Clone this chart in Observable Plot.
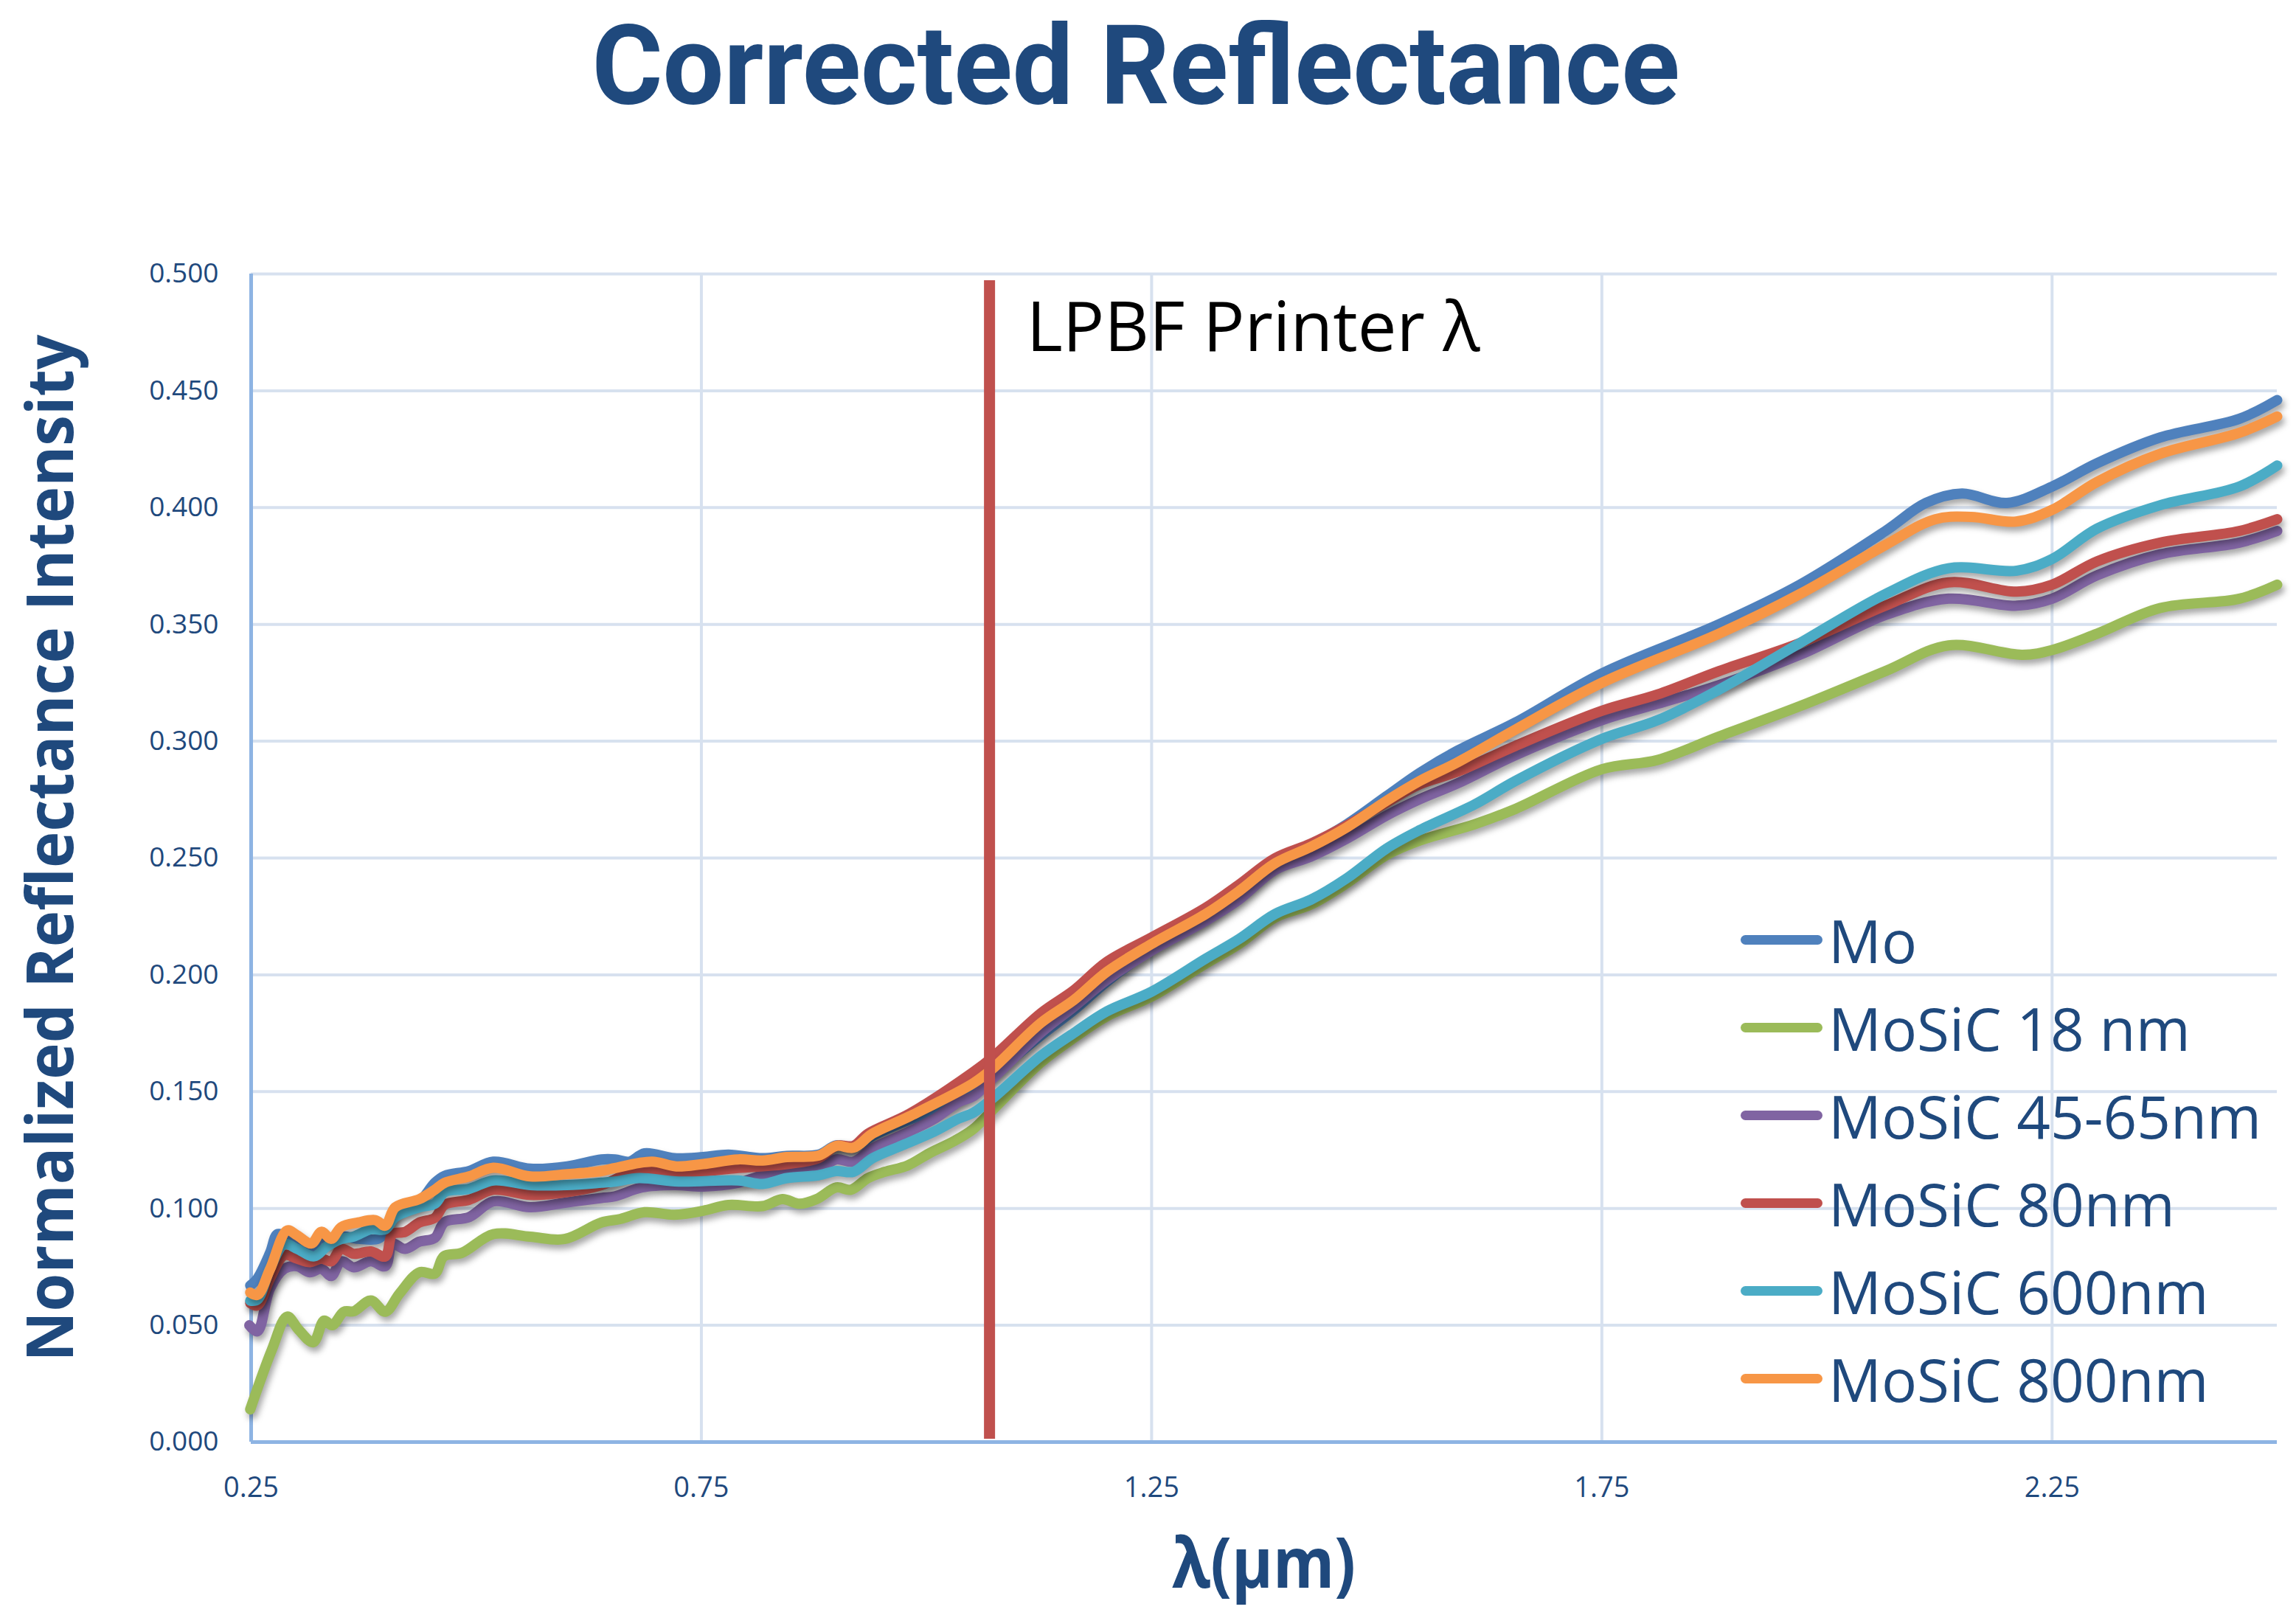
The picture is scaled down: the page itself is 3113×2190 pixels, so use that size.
<!DOCTYPE html>
<html>
<head>
<meta charset="utf-8">
<script src="https://cdn.jsdelivr.net/npm/d3@7"></script>
<script src="https://cdn.jsdelivr.net/npm/@observablehq/plot@0.6"></script>
<style>
  html, body { margin: 0; padding: 0; background: #fff; }
  #wrap { position: relative; width: 3113px; height: 2190px; overflow: hidden; background: #fff; font-family: 'Open Sans', sans-serif; }
  #title { position: absolute; left: 0; top: 0; width: 3113px; height: 190px; }
  #chart { position: absolute; left: 0; top: 190px; }
  #legend { position: absolute; left: 2360px; top: 1215px; }
  .row { display: flex; align-items: center; height: 119px; }
  .sw { width: 111px; height: 13px; border-radius: 7px; margin-right: 8px; }
  .lab { font-size: 80px; color: #1F497D; white-space: nowrap; }
</style>
</head>
<body>
<div id="wrap">
  <div id="title">
    <svg width="3113" height="190" xmlns="http://www.w3.org/2000/svg">
      <text x="1540" y="141" text-anchor="middle" font-family="Roboto, sans-serif" font-weight="700" font-size="150" fill="#1F497D" textLength="1475" lengthAdjust="spacingAndGlyphs">Corrected Reflectance</text>
    </svg>
  </div>
  <div id="chart"></div>
  <div id="legend"></div>
</div>
<script>
// ---- data (wavelength µm, normalized reflectance) ----
const seriesNames = ["Mo", "MoSiC 18 nm", "MoSiC 45-65nm", "MoSiC 80nm", "MoSiC 600nm", "MoSiC 800nm"];
const seriesColors = ["#4F81BD", "#9BBB59", "#8064A2", "#C0504D", "#4BACC6", "#F79646"];

const mo = [[0.249,0.067],[0.257,0.070],[0.271,0.081],[0.279,0.089],[0.287,0.0885],[0.301,0.087],[0.317,0.083],[0.328,0.088],[0.339,0.085],[0.350,0.088],[0.369,0.087],[0.391,0.087],[0.399,0.090],[0.410,0.098],[0.437,0.103],[0.454,0.111],[0.465,0.114],[0.492,0.116],[0.519,0.120],[0.560,0.117],[0.601,0.118],[0.639,0.121],[0.654,0.121],[0.670,0.120],[0.687,0.1236],[0.720,0.1215],[0.752,0.122],[0.780,0.123],[0.818,0.1215],[0.845,0.1225],[0.880,0.123],[0.900,0.127],[0.919,0.126],[0.940,0.131],[0.981,0.138],[1.009,0.142],[1.036,0.147],[1.052,0.151],[1.073,0.157],[1.127,0.174],[1.164,0.185],[1.200,0.197],[1.250,0.211],[1.310,0.2245],[1.347,0.235],[1.387,0.2475],[1.427,0.2555],[1.467,0.2645],[1.511,0.2765],[1.548,0.2865],[1.590,0.296],[1.654,0.308],[1.750,0.329],[1.880,0.350],[1.970,0.367],[2.065,0.390],[2.110,0.402],[2.150,0.406],[2.200,0.402],[2.250,0.409],[2.300,0.419],[2.370,0.430],[2.458,0.438],[2.500,0.446]];

const mosic18 = [[0.249,0.014],[0.273,0.0395],[0.290,0.0537],[0.303,0.048],[0.319,0.0427],[0.331,0.052],[0.340,0.050],[0.353,0.0558],[0.364,0.056],[0.383,0.0606],[0.399,0.0558],[0.415,0.0637],[0.437,0.0727],[0.454,0.0721],[0.464,0.0795],[0.484,0.081],[0.519,0.089],[0.560,0.0879],[0.598,0.0869],[0.639,0.094],[0.660,0.0955],[0.687,0.0984],[0.720,0.0973],[0.752,0.099],[0.780,0.1015],[0.818,0.101],[0.840,0.104],[0.859,0.102],[0.878,0.104],[0.900,0.109],[0.916,0.108],[0.935,0.113],[0.954,0.1157],[0.979,0.1184],[1.003,0.1236],[1.031,0.1289],[1.052,0.134],[1.073,0.142],[1.127,0.1625],[1.164,0.1731],[1.200,0.1822],[1.250,0.1907],[1.310,0.2048],[1.347,0.2132],[1.387,0.2245],[1.427,0.2301],[1.467,0.2393],[1.511,0.2513],[1.548,0.2575],[1.609,0.2645],[1.654,0.271],[1.750,0.288],[1.812,0.292],[1.880,0.302],[1.970,0.315],[2.065,0.330],[2.135,0.341],[2.217,0.337],[2.250,0.339],[2.300,0.346],[2.370,0.357],[2.458,0.361],[2.500,0.367]];

const mosic4565 = [[0.248,0.050],[0.257,0.0474],[0.271,0.0658],[0.287,0.0742],[0.301,0.0753],[0.315,0.0727],[0.328,0.0742],[0.339,0.0711],[0.350,0.0774],[0.364,0.0748],[0.383,0.0774],[0.399,0.0753],[0.407,0.0848],[0.421,0.0827],[0.437,0.0858],[0.454,0.0874],[0.465,0.0942],[0.492,0.0963],[0.519,0.103],[0.560,0.1005],[0.601,0.1026],[0.639,0.1045],[0.654,0.1052],[0.684,0.109],[0.720,0.110],[0.752,0.1094],[0.791,0.111],[0.818,0.1142],[0.845,0.116],[0.880,0.117],[0.900,0.121],[0.919,0.120],[0.940,0.1257],[0.973,0.1315],[1.009,0.1384],[1.036,0.1456],[1.052,0.148],[1.073,0.1554],[1.127,0.1752],[1.164,0.1864],[1.200,0.1977],[1.250,0.2104],[1.310,0.2231],[1.347,0.2322],[1.387,0.2449],[1.427,0.2506],[1.467,0.2583],[1.511,0.2682],[1.548,0.2752],[1.590,0.282],[1.654,0.294],[1.750,0.309],[1.812,0.316],[1.880,0.324],[1.970,0.337],[2.065,0.354],[2.135,0.361],[2.211,0.358],[2.250,0.361],[2.300,0.371],[2.370,0.380],[2.458,0.385],[2.500,0.390]];

const mosic80 = [[0.249,0.0595],[0.257,0.0585],[0.271,0.070],[0.287,0.080],[0.301,0.0785],[0.315,0.077],[0.328,0.0785],[0.339,0.0774],[0.350,0.0827],[0.364,0.0806],[0.383,0.0816],[0.399,0.0795],[0.407,0.089],[0.421,0.090],[0.437,0.094],[0.454,0.096],[0.465,0.1016],[0.492,0.1037],[0.519,0.108],[0.560,0.1058],[0.601,0.107],[0.639,0.110],[0.684,0.117],[0.720,0.1152],[0.791,0.1173],[0.845,0.119],[0.880,0.1215],[0.900,0.1268],[0.919,0.1268],[0.935,0.132],[0.981,0.1405],[1.052,0.1584],[1.073,0.1646],[1.127,0.1836],[1.164,0.1935],[1.200,0.2055],[1.250,0.216],[1.310,0.2287],[1.347,0.2386],[1.387,0.2499],[1.427,0.2562],[1.467,0.264],[1.511,0.2738],[1.548,0.2816],[1.590,0.287],[1.654,0.298],[1.750,0.313],[1.812,0.320],[1.880,0.330],[1.970,0.342],[2.065,0.358],[2.135,0.368],[2.211,0.364],[2.250,0.367],[2.300,0.377],[2.370,0.385],[2.458,0.390],[2.500,0.395]];

const mosic600 = [[0.249,0.0605],[0.257,0.061],[0.271,0.0742],[0.287,0.0847],[0.301,0.0827],[0.320,0.0795],[0.334,0.0837],[0.350,0.0869],[0.364,0.088],[0.383,0.0911],[0.399,0.0911],[0.410,0.0963],[0.437,0.1005],[0.454,0.102],[0.465,0.107],[0.492,0.1084],[0.519,0.112],[0.560,0.110],[0.601,0.110],[0.639,0.111],[0.654,0.1115],[0.681,0.113],[0.725,0.1115],[0.791,0.112],[0.818,0.1105],[0.845,0.113],[0.880,0.1142],[0.900,0.116],[0.919,0.1157],[0.940,0.1215],[0.973,0.127],[1.009,0.133],[1.036,0.1385],[1.052,0.141],[1.073,0.147],[1.127,0.1653],[1.164,0.1752],[1.200,0.1843],[1.250,0.1928],[1.310,0.2069],[1.347,0.2153],[1.387,0.226],[1.427,0.2322],[1.467,0.2414],[1.511,0.2541],[1.548,0.262],[1.609,0.273],[1.654,0.283],[1.750,0.301],[1.812,0.309],[1.880,0.322],[1.970,0.342],[2.065,0.363],[2.135,0.374],[2.211,0.373],[2.250,0.378],[2.300,0.391],[2.370,0.401],[2.458,0.409],[2.500,0.418]];

const mosic800 = [[0.249,0.064],[0.257,0.063],[0.271,0.074],[0.290,0.0906],[0.301,0.0885],[0.317,0.085],[0.328,0.090],[0.339,0.087],[0.350,0.092],[0.369,0.094],[0.388,0.095],[0.399,0.0926],[0.410,0.1005],[0.437,0.104],[0.454,0.108],[0.465,0.111],[0.492,0.1137],[0.519,0.1174],[0.560,0.1137],[0.601,0.1147],[0.639,0.116],[0.654,0.1173],[0.695,0.120],[0.722,0.118],[0.752,0.119],[0.791,0.121],[0.818,0.1205],[0.845,0.122],[0.880,0.1226],[0.900,0.1268],[0.919,0.126],[0.940,0.132],[0.981,0.1394],[1.052,0.1536],[1.073,0.1597],[1.127,0.1794],[1.164,0.1893],[1.200,0.2012],[1.250,0.2132],[1.310,0.226],[1.347,0.2358],[1.387,0.2477],[1.427,0.2548],[1.467,0.2632],[1.511,0.2745],[1.548,0.283],[1.590,0.291],[1.654,0.305],[1.750,0.325],[1.880,0.346],[1.970,0.363],[2.065,0.384],[2.120,0.395],[2.160,0.396],[2.210,0.394],[2.250,0.399],[2.300,0.411],[2.370,0.423],[2.458,0.432],[2.500,0.439]];

const xTicks = [0.25, 0.75, 1.25, 1.75, 2.25];
const yTicks = [0, 0.05, 0.10, 0.15, 0.20, 0.25, 0.30, 0.35, 0.40, 0.45, 0.50];
const laserWavelength = 1.07;
const laserLabel = "LPBF Printer λ";

// ---- build table ----
const allSeries = [mo, mosic18, mosic4565, mosic80, mosic600, mosic800];
const rows = [];
allSeries.forEach((s, i) => s.forEach(([x, y]) => rows.push({series: seriesNames[i], x, y})));

const W = 3113, H = 2000, mL = 340, mR = 26, mT = 181, mB = 235;
const navy = "#1F497D";

const chart = Plot.plot({
  width: W, height: H,
  marginLeft: mL, marginRight: mR, marginTop: mT, marginBottom: mB,
  style: {fontFamily: "'Open Sans', sans-serif", background: "white", overflow: "visible"},
  x: {domain: [0.25, 2.5]},
  y: {domain: [0, 0.5]},
  color: {domain: seriesNames, range: seriesColors},
  marks: [
    Plot.ruleY(yTicks, {stroke: "#D7E1EF", strokeWidth: 4}),
    Plot.ruleX(xTicks.slice(1), {stroke: "#D7E1EF", strokeWidth: 4}),
    Plot.ruleX(xTicks.slice(0, 1), {stroke: "#8EB4E3", strokeWidth: 5}),
    Plot.ruleY(yTicks.slice(0, 1), {stroke: "#8EB4E3", strokeWidth: 5}),
    Plot.axisX({ticks: xTicks, tickSize: 0, tickPadding: 48, tickFormat: d => d.toFixed(2), fontSize: 38, color: navy, label: null}),
    Plot.axisY({ticks: yTicks, tickSize: 0, tickPadding: 44, tickFormat: d => d.toFixed(3), fontSize: 37, color: navy, label: null}),
    Plot.line(rows, {x: "x", y: "y", z: "series", stroke: "series", strokeWidth: 14, curve: "catmull-rom", strokeLinejoin: "round", strokeLinecap: "round"}),
    Plot.ruleX([laserWavelength], {stroke: "#C0504D", strokeWidth: 15, insetTop: 9, insetBottom: 4}),
    Plot.text([laserWavelength], {x: d => d, text: () => laserLabel, frameAnchor: "top", textAnchor: "start", lineAnchor: "top", dx: 50, dy: 38, fontSize: 94, fill: "black"})
  ]
});

document.getElementById("chart").appendChild(chart);

const svg = d3.select(chart);
svg.selectAll('g[aria-label="line"] path').style("filter", "drop-shadow(3px 6px 4px rgba(0,0,0,0.35))");

// axis titles
svg.append("text")
  .attr("transform", `translate(99, 960) rotate(-90)`)
  .attr("text-anchor", "middle")
  .attr("font-size", 88).attr("font-weight", 700).attr("fill", navy)
  .attr("textLength", 1393).attr("lengthAdjust", "spacingAndGlyphs")
  .text("Normalized Reflectance Intensity");

svg.append("text")
  .attr("x", (mL + (W - mR)) / 2).attr("y", 1963)
  .attr("text-anchor", "middle")
  .attr("font-size", 95).attr("font-weight", 700).attr("fill", navy)
  .attr("textLength", 249).attr("lengthAdjust", "spacingAndGlyphs")
  .text("λ(µm)");

// legend
const legend = d3.select("#legend");
seriesNames.forEach((name, i) => {
  const r = legend.append("div").attr("class", "row");
  r.append("div").attr("class", "sw").style("background", seriesColors[i]);
  r.append("div").attr("class", "lab").text(name);
});
</script>
</body>
</html>
